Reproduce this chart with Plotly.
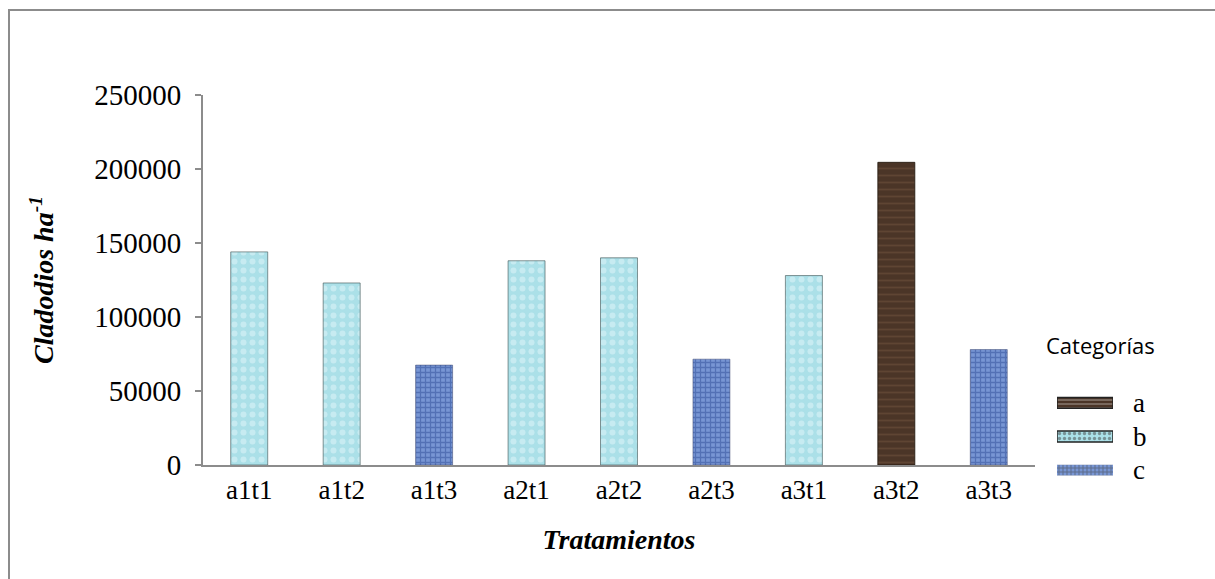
import plotly.graph_objects as go

# Treatments, cladode counts per hectare and their statistical category
tratamientos = ["a1t1", "a1t2", "a1t3", "a2t1", "a2t2", "a2t3", "a3t1", "a3t2", "a3t3"]
cladodios = [144000, 123000, 67500, 138000, 140000, 71500, 128000, 204500, 78000]
categoria = ["b", "b", "c", "b", "b", "c", "b", "a", "c"]

categorias = ["a", "b", "c"]
y_ticks = [0, 50000, 100000, 150000, 200000, 250000]

# Fill textures for each category
estilos = {
    "a": dict(bg="#4b3527", fg="#74563f", shape="-", size=7, solidity=0.25, line="rgba(30,20,10,0.8)"),
    "b": dict(bg="#abe0e8", fg="#e4f6f9", shape=".", size=9, solidity=0.35, line="rgba(60,80,80,0.6)"),
    "c": dict(bg="#7896d4", fg="#2d4c96", shape="+", size=5, solidity=0.45, line="rgba(60,70,110,0.5)"),
}
# Finer texture scale for the small legend swatches
tam_muestra = {"a": 4, "b": 5, "c": 4}

W, H = 1215, 579
# Paper area (pixels) and the main plotting box inside it
L, R, T, B = 203, 20, 95, 60
pw, ph = W - L - R, H - T - B
PLOT_X1, PLOT_Y1 = 1035, 465


def px_x(px):
    return (px - L) / pw


def px_y(py):
    return (H - B - py) / ph


def marker_for(cat, line_w=1):
    st = estilos[cat]
    return dict(
        color=st["bg"],
        line=dict(color=st["line"], width=line_w),
        pattern=dict(shape=st["shape"], fgcolor=st["fg"], bgcolor=st["bg"],
                     size=st["size"], solidity=st["solidity"], fillmode="overlay"),
    )


fig = go.Figure()
for cat in categorias:
    vals = [v if c == cat else None for v, c in zip(cladodios, categoria)]
    fig.add_trace(go.Bar(
        x=tratamientos, y=vals, name=cat, width=0.4,
        marker=marker_for(cat), showlegend=False,
    ))

# Legend swatches: one wide textured bar per category on a small inset axis
fig.add_trace(go.Bar(
    y=categorias, x=[1, 1, 1], orientation="h", width=0.32,
    xaxis="x2", yaxis="y2", showlegend=False, hoverinfo="skip",
    marker=dict(
        color=[estilos[c]["bg"] for c in categorias],
        line=dict(color=["#222222", "#222222", "rgba(0,0,0,0)"], width=1.5),
        pattern=dict(shape=[estilos[c]["shape"] for c in categorias],
                     fgcolor=[estilos[c]["fg"] for c in categorias],
                     bgcolor=[estilos[c]["bg"] for c in categorias],
                     size=[tam_muestra[c] for c in categorias],
                     solidity=[estilos[c]["solidity"] for c in categorias],
                     fillmode="overlay"),
    ),
))

serif = "Liberation Serif, Times New Roman, serif"

# Legend labels
ley_y0, ley_y1 = 386, 487
paso = (ley_y1 - ley_y0) / len(categorias)
for i, cat in enumerate(categorias):
    fig.add_annotation(
        xref="paper", yref="paper", x=px_x(1131), y=px_y(ley_y0 + paso * (i + 0.5)),
        text=cat, showarrow=False, xanchor="left", yanchor="middle",
        font=dict(family=serif, size=27, color="black"),
    )
fig.add_annotation(
    xref="paper", yref="paper", x=px_x(1100), y=px_y(345),
    text="Categorías", showarrow=False, xanchor="center", yanchor="middle",
    font=dict(family="Open Sans, sans-serif", size=22, color="black"),
)

# Chart frame (left and top edges visible)
fig.add_shape(type="line", xref="paper", yref="paper",
              x0=px_x(9), x1=px_x(9), y0=px_y(10), y1=px_y(600),
              line=dict(color="#8c8c8c", width=2))
fig.add_shape(type="line", xref="paper", yref="paper",
              x0=px_x(8), x1=px_x(1230), y0=px_y(10), y1=px_y(10),
              line=dict(color="#8c8c8c", width=2))

fig.update_layout(
    width=W, height=H,
    margin=dict(l=L, r=R, t=T, b=B),
    paper_bgcolor="white", plot_bgcolor="white",
    barmode="overlay", showlegend=False,
    font=dict(family=serif, size=27, color="black"),
    xaxis=dict(
        domain=[0, px_x(PLOT_X1)],
        showline=True, linecolor="#8c8c8c", linewidth=2,
        ticks="", tickfont=dict(family=serif, size=27),
        title=dict(text="<b><i>Tratamientos</i></b>", font=dict(family=serif, size=28), standoff=25),
        showgrid=False,
    ),
    yaxis=dict(
        domain=[px_y(PLOT_Y1), 1],
        range=[0, 250000], tickvals=y_ticks, ticktext=[str(v) for v in y_ticks],
        showline=True, linecolor="#8c8c8c", linewidth=2,
        ticks="outside", ticklen=6, tickcolor="#8c8c8c", tickwidth=2,
        ticklabelstandoff=8,
        tickfont=dict(family=serif, size=29), showgrid=False, zeroline=False,
        title=dict(text="<b><i>Cladodios ha<sup>-1</sup></i></b>", font=dict(family=serif, size=28), standoff=32),
    ),
    xaxis2=dict(
        domain=[px_x(1057), px_x(1113)], range=[0, 1], anchor="y2",
        visible=False, fixedrange=True,
    ),
    yaxis2=dict(
        domain=[px_y(ley_y1), px_y(ley_y0)], anchor="x2",
        categoryorder="array", categoryarray=categorias, autorange="reversed",
        visible=False, fixedrange=True,
    ),
)

fig.write_html("out.html")
